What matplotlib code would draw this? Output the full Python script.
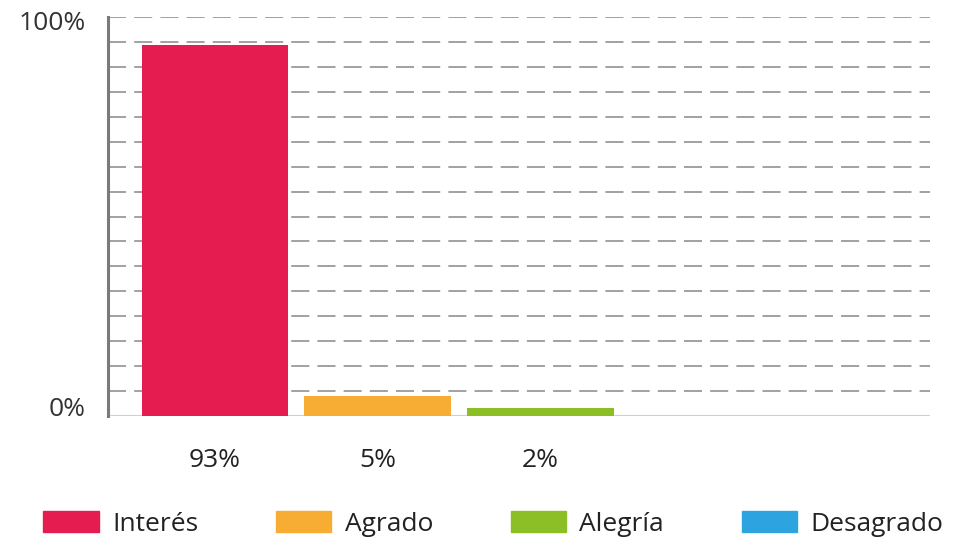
import matplotlib
matplotlib.use("Agg")
import matplotlib.pyplot as plt
import matplotlib.transforms as mtransforms
import numpy as np

categories = ["Interés", "Agrado", "Alegría", "Desagrado"]
values = [93, 5, 2, 0]
value_labels = ["93%", "5%", "2%", ""]
colors = ["#E51C4F", "#F7AC33", "#8CBF26", "#2DA4DF"]
ytick_labels = ["0%", "100%"]

plt.rcParams["font.family"] = ["Open Sans", "DejaVu Sans"]

fig = plt.figure(figsize=(9.58, 5.46), dpi=100)
ax = fig.add_axes([108 / 958, 1 - 416 / 546, (930 - 108) / 958, 399 / 546])

x = np.arange(len(categories))
ax.bar(x, values, width=0.9, color=colors, zorder=3)

ax.set_xlim(-0.656, 4.39)
ax.set_ylim(0, 100)

# dashed horizontal guides
for yv in np.arange(6.25, 100.01, 6.25):
    ax.axhline(yv, color="#9a9a9a", lw=1.3, ls=(0, (10, 4.5)), zorder=1)
ax.axhline(0, color="#d0d0d0", lw=1.5, zorder=2)

for s in ["top", "right", "bottom"]:
    ax.spines[s].set_visible(False)
ax.spines["left"].set_color("#7a7a7a")
ax.spines["left"].set_linewidth(2.2)

ax.set_yticks([0, 100])
ax.set_yticklabels(ytick_labels, fontsize=19, color="#333333")
ax.tick_params(axis="y", length=0, pad=16)
for lbl in ax.get_yticklabels():
    lbl.set_verticalalignment("center")
    dy = -5 / 72 if lbl.get_text() == "100%" else 5 / 72
    lbl.set_transform(lbl.get_transform() +
                      mtransforms.ScaledTranslation(0, dy, fig.dpi_scale_trans))
ax.set_xticks([])

for xi, lab in zip(x, value_labels):
    if lab:
        ax.annotate(lab, (xi, 0), xytext=(0, -32), textcoords="offset points",
                    ha="center", va="center", fontsize=19, color="#222222")

handles = [plt.Rectangle((0, 0), 1, 1, color=c) for c in colors]
fig.legend(handles, categories, loc="center", bbox_to_anchor=(0.515, 1 - 524 / 546),
           ncol=4, frameon=False, fontsize=19, handlelength=2.1, handleheight=0.85,
           columnspacing=2.95, handletextpad=0.5, labelcolor="#222222",
           borderaxespad=0, borderpad=0)

fig.savefig("out.png", dpi=100, facecolor="white")
